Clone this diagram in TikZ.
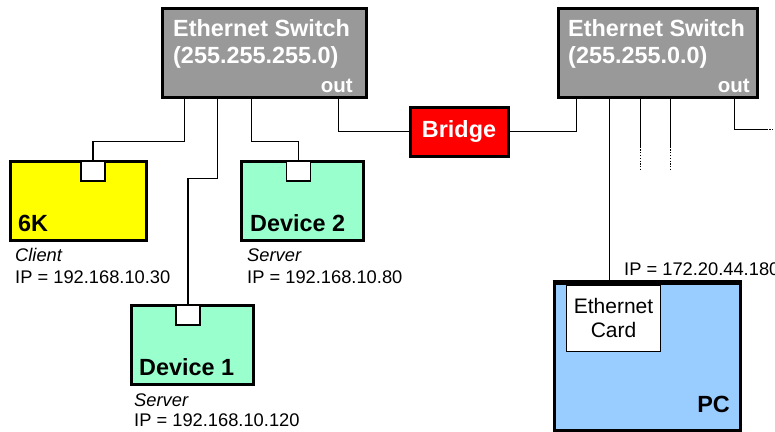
\documentclass[tikz,border=0pt]{standalone}
\usepackage{fontspec}
\setmainfont{Liberation Sans}
\usetikzlibrary{calc}
\definecolor{swgray}{RGB}{153,153,153}
\definecolor{devgreen}{RGB}{153,255,204}
\definecolor{pcblue}{RGB}{153,204,255}
\definecolor{bridgered}{RGB}{255,0,0}
\definecolor{clientyellow}{RGB}{255,255,0}

\begin{document}
\begin{tikzpicture}[x=1pt,y=-1pt,
  switchbox/.style={draw=black,line width=3pt,inner sep=0pt,fill=swgray,minimum height=89pt},
  devbox/.style={draw=black,line width=3pt,inner sep=0pt,minimum width=122pt,minimum height=79pt},
  port/.style={draw=black,line width=1.2pt,fill=white,minimum width=24pt,minimum height=20pt,inner sep=0pt},
  wire/.style={line width=1.8pt},
  dots/.style={line width=1.8pt,dash pattern=on 1.2pt off 1.6pt},
  big/.style={font=\fontsize{23.4}{27}\selectfont\bfseries},
  txt/.style={font=\fontsize{18.3}{22}\selectfont},
  itxt/.style={font=\fontsize{18.3}{22}\selectfont\itshape},
  lbl/.style={anchor=base west,inner sep=0pt}]
  \useasboundingbox (0,0) rectangle (775,431);
  % Switches
  \node[switchbox,minimum width=204pt] (sw1) at (264,52.5) {};
  \node[lbl,big,text=white] at (173,36) {Ethernet Switch};
  \node[lbl,big,text=white] at (173,63) {(255.255.255.0)};
  \node[anchor=base east,inner sep=0pt,text=white,font=\fontsize{20.5}{24}\selectfont\bfseries] at (353,92) {out};
  \node[switchbox,minimum width=199pt] (sw2) at (657.5,52.5) {};
  \node[lbl,big,text=white] at (568,36) {Ethernet Switch};
  \node[lbl,big,text=white] at (568,63) {(255.255.0.0)};
  \node[anchor=base east,inner sep=0pt,text=white,font=\fontsize{20.5}{24}\selectfont\bfseries] at (750,92) {out};
  % Bridge
  \node[devbox,fill=bridgered,minimum width=98pt,minimum height=49pt,big,text=white] (bridge) at (459,131.5) {Bridge};
  % Devices
  \node[devbox,fill=clientyellow,minimum width=136pt] (k6) at (78,200.5) {};
  \node[port] (k6port) at (93,171) {};
  \node[lbl,big] at (18,231) {6K};
  \node[lbl,itxt] at (15,261) {Client};
  \node[lbl,txt] at (15,283) {IP = 192.168.10.30};
  \node[devbox,fill=devgreen] (dev2) at (302.5,200.5) {};
  \node[port] (d2port) at (298.5,171) {};
  \node[lbl,big] at (250,231) {Device 2};
  \node[lbl,itxt] at (247,261) {Server};
  \node[lbl,txt] at (247,283) {IP = 192.168.10.80};
  \node[devbox,fill=devgreen] (dev1) at (192,344.5) {};
  \node[port] (d1port) at (188,315) {};
  \node[lbl,big] at (139,375) {Device 1};
  \node[lbl,itxt] at (134,406) {Server};
  \node[lbl,txt] at (134,426.5) {IP = 192.168.10.120};
  % PC
  \node[devbox,fill=pcblue,minimum width=186pt,minimum height=147pt] (pc) at (647,356.5) {};
  \node[draw=black,line width=1pt,fill=white,minimum width=94pt,minimum height=66pt,inner sep=0pt,align=center,
    font=\fontsize{21}{24}\selectfont] (card) at (613.5,318) {Ethernet\\Card};
  \draw[line width=3pt] (pc.north west) -- (pc.north east);
  \node[anchor=base east,inner sep=0pt,big] at (730,412) {PC};
  \node[lbl,txt] at (624,275) {IP = 172.20.44.180};
  % Wires
  \draw[wire] ([xshift=24pt]sw1.south west) -- ++(0,43) -| (k6port.north);
  \draw[wire] ([xshift=57pt]sw1.south west) -- ++(0,80) -| (d1port.north);
  \draw[wire] ([xshift=91pt]sw1.south west) -- ++(0,43) -| (d2port.north);
  \draw[wire] ([xshift=178pt]sw1.south west) |- (bridge.west);
  \draw[wire] (bridge.east) -| ([xshift=20pt]sw2.south west);
  \draw[wire] ([xshift=53pt]sw2.south west) coordinate (pctap) -- (pctap |- pc.north);
  \draw[wire] ([xshift=84pt]sw2.south west) -- ++(0,48) coordinate (tap1);
  \draw[dots] (tap1) -- ++(0,23);
  \draw[wire] ([xshift=114pt]sw2.south west) -- ++(0,48) coordinate (tap2);
  \draw[dots] (tap2) -- ++(0,23);
  \draw[wire] ([xshift=178pt]sw2.south west) -- ++(0,31) -- ++(32,0) coordinate (out2);
  \draw[dots] (out2) -- ++(9,0);
\end{tikzpicture}
\end{document}
